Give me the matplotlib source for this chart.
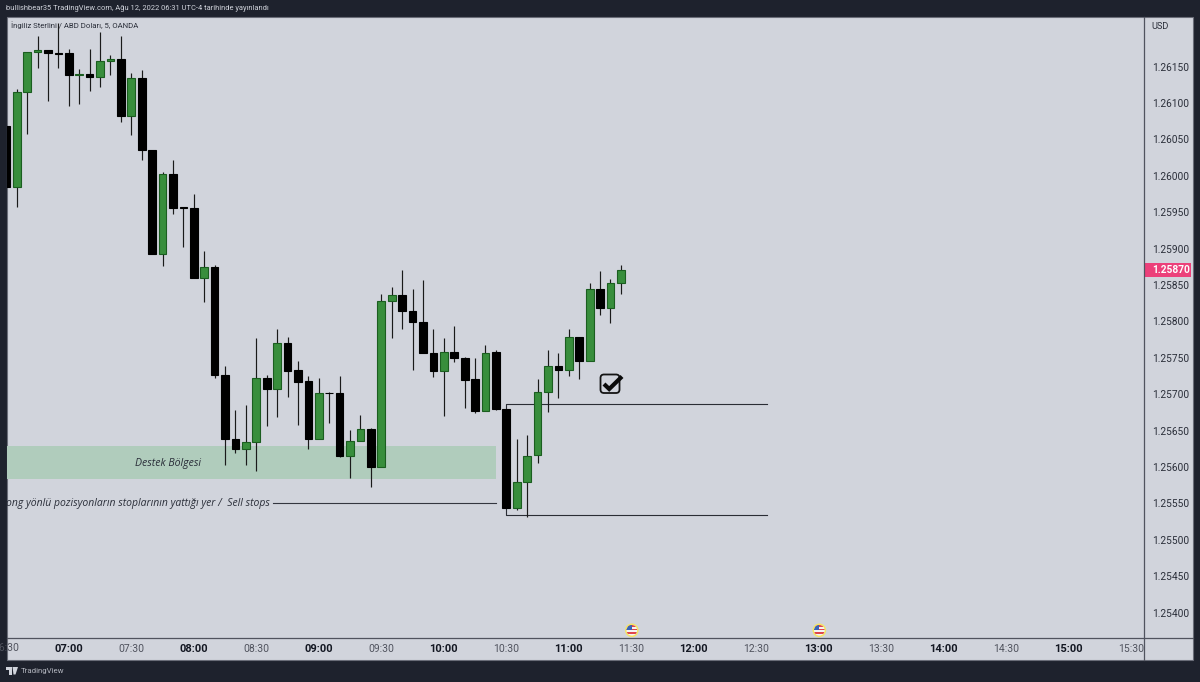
import matplotlib
matplotlib.use("Agg")
import matplotlib.pyplot as plt
from matplotlib import font_manager as fm
from matplotlib.patches import Rectangle, FancyBboxPatch, Circle, Polygon
from matplotlib.lines import Line2D

BG = "#1E222D"; PANE = "#D1D4DC"; GREEN = "#388E3C"; GREEN_EDGE = "#1B5E20"
ZONE = "#B0CCBC"; AXL = "#50535E"; TXT = "#2A2E39"; PINK = "#EC407A"

bars = list(range(-6, 54))
opens = [1.26068,1.25984,1.26115,1.26170,1.26172,1.26168,1.26168,1.26138,1.26140,1.26135,
         1.26158,1.26160,1.26082,1.26134,1.26035,1.25893,1.26002,1.25957,1.25955,1.25859,
         1.25874,1.25726,1.25639,1.25624,1.25634,1.25722,1.25707,1.25770,1.25733,1.25718,
         1.25639,1.25702,1.25702,1.25615,1.25636,1.25652,1.25600,1.25828,1.25836,1.25814,
         1.25799,1.25757,1.25732,1.25758,1.25750,1.25721,1.25677,1.25758,1.25680,1.25543,
         1.25579,1.25616,1.25703,1.25739,1.25733,1.25778,1.25746,1.25844,1.25818,1.25852]
highs = [1.26068,1.26119,1.26170,1.26192,1.26172,1.26210,1.26174,1.26147,1.26174,1.26198,
         1.26166,1.26192,1.26141,1.26145,1.26035,1.26005,1.26022,1.25957,1.25975,1.25896,
         1.25877,1.25738,1.25678,1.25685,1.25777,1.25726,1.25789,1.25779,1.25746,1.25725,
         1.25722,1.25703,1.25725,1.25651,1.25671,1.25653,1.25837,1.25847,1.25870,1.25845,
         1.25857,1.25789,1.25777,1.25794,1.25751,1.25749,1.25767,1.25760,1.25680,1.25638,
         1.25644,1.25721,1.25760,1.25757,1.25789,1.25778,1.25853,1.25869,1.25858,1.25877]
lows = [1.25984,1.25957,1.26057,1.26148,1.26103,1.26148,1.26096,1.26098,1.26117,1.26122,
        1.26139,1.26074,1.26056,1.26021,1.25893,1.25876,1.25947,1.25902,1.25859,1.25826,
        1.25722,1.25603,1.25619,1.25603,1.25595,1.25656,1.25669,1.25696,1.25657,1.25625,
        1.25639,1.25660,1.25613,1.25585,1.25636,1.25572,1.25600,1.25777,1.25789,1.25733,
        1.25757,1.25724,1.25670,1.25744,1.25681,1.25674,1.25677,1.25678,1.25543,1.25541,
        1.25531,1.25606,1.25676,1.25695,1.25725,1.25721,1.25746,1.25809,1.25798,1.25838]
closes = [1.25984,1.26115,1.26170,1.26172,1.26168,1.26167,1.26138,1.26140,1.26135,1.26158,
          1.26160,1.26082,1.26134,1.26035,1.25893,1.26002,1.25955,1.25955,1.25859,1.25874,
          1.25726,1.25639,1.25625,1.25634,1.25722,1.25707,1.25770,1.25732,1.25717,1.25639,
          1.25701,1.25701,1.25615,1.25636,1.25652,1.25600,1.25828,1.25836,1.25814,1.25799,
          1.25757,1.25732,1.25758,1.25750,1.25720,1.25677,1.25757,1.25680,1.25543,1.25579,
          1.25615,1.25703,1.25739,1.25733,1.25778,1.25746,1.25844,1.25818,1.25852,1.25870]

price_ticks = [1.26150,1.26100,1.26050,1.26000,1.25950,1.25900,1.25850,1.25800,1.25750,
               1.25700,1.25650,1.25600,1.25550,1.25500,1.25450,1.25400]
time_labels = ["07:00","07:30","08:00","08:30","09:00","09:30","10:00","10:30","11:00","11:30",
               "12:00","12:30","13:00","13:30","14:00","14:30","15:00","15:30"]
time_bars = list(range(0, 108, 6))
last_price = 1.25870
zone_low, zone_high = 1.25583, 1.25629
stops_level = 1.25550
box_high, box_low = 1.25686, 1.25534
event_bars = [54, 72]

W, H = 1200, 682
plt.rcParams["font.family"] = "Roboto"
installed = {f.name for f in fm.fontManager.ttflist}
NARROW = "Liberation Sans Narrow" if "Liberation Sans Narrow" in installed else "Roboto"
hdr_size = 6.6 if NARROW != "Roboto" else 5.4
tic_size = 6.7 if NARROW != "Roboto" else 5.55
tv_size = 6.9 if NARROW != "Roboto" else 5.7
fig = plt.figure(figsize=(12, 6.82), dpi=100, facecolor=BG)

bgax = fig.add_axes([0, 0, 1, 1], zorder=0)
bgax.set_xlim(0, W); bgax.set_ylim(H, 0); bgax.axis("off")
bgax.add_patch(Rectangle((7, 17), 1186, 643, fc=PANE, ec="#6A6D78", lw=0.8))

ax = fig.add_axes([7/W, 1-638/H, (1144.4-7)/W, (638-17)/H], zorder=2)
ax.patch.set_alpha(0)
ax.set_xlim(-5.93, 103.25)
ax.set_ylim(1.25365, 1.26218)
for s in ax.spines.values():
    s.set_visible(False)

ax.add_patch(Rectangle((-7, zone_low), 48, zone_high-zone_low, fc=ZONE, ec="none", zorder=1))
ax.text(9.5, (zone_low+zone_high)/2 - 0.00001, "Destek Bölgesi", style="italic", fontsize=7.6, color=TXT,
        ha="center", va="center", family="Open Sans", zorder=1.5)
ax.text(19.3, stops_level, "Long yönlü pozisyonların stoplarının yattığı yer /  Sell stops",
        style="italic", fontsize=7.5, color=TXT, ha="right", va="center",
        family="Open Sans", clip_on=True, zorder=1.5)
ax.plot([19.6, 41], [stops_level]*2, color="#33363f", lw=0.8, zorder=1.5)
ax.plot([67, 42, 42], [box_high, box_high, box_high-0.00006], color="#2a2d35", lw=0.8, zorder=1.5)
ax.plot([42, 42, 67], [box_low+0.00010, box_low, box_low], color="#2a2d35", lw=0.8, zorder=1.5)

for i, o, h, l, c in zip(bars, opens, highs, lows, closes):
    up = c >= o
    ax.vlines(i, l, h, color="#1a1a1a", lw=0.85, zorder=3)
    ax.bar(i, abs(c-o), bottom=min(o, c), width=0.74,
           color=GREEN if up else "#000000",
           edgecolor=GREEN_EDGE if up else "#000000", linewidth=0.8, zorder=4)

ax.yaxis.tick_right()
ax.set_yticks(price_ticks, [f"{p:.5f}" for p in price_ticks])
ax.tick_params(axis="y", length=0, pad=5.2, labelsize=7.3, labelcolor=TXT)
ax.set_xticks(time_bars, time_labels)
ax.tick_params(axis="x", length=0, pad=4.5, labelsize=8)
for t, lab in zip(ax.get_xticklabels(), time_labels):
    if lab.endswith(":00"):
        t.set_fontweight("bold"); t.set_color("#131722")
    else:
        t.set_color("#50535E"); t.set_fontsize(7.5)

top = fig.add_axes([0, 0, 1, 1], zorder=5)
top.set_xlim(0, W); top.set_ylim(H, 0); top.axis("off"); top.patch.set_alpha(0)
top.add_line(Line2D([7, 1193], [638, 638], color=AXL, lw=0.9))
top.add_line(Line2D([1144.4, 1144.4], [17, 660], color=AXL, lw=0.9))

clip = Rectangle((7, 638), 50, 22, transform=top.transData)
t0 = top.text(6.3, 648, "06:30", fontsize=7.5, color="#50535E", ha="center", va="center")
t0.set_clip_path(clip)

top.text(6, 8.5, "bullishbear35 TradingView.com, Ağu 12, 2022 06:31 UTC-4 tarihinde yayınlandı",
         color="#D1D4DC", fontsize=hdr_size, family=NARROW, va="center", ha="left")
top.text(11, 25.5, "İngiliz Sterlini / ABD Doları, 5, OANDA", color=TXT, fontsize=tic_size,
         family=NARROW, va="center", ha="left")
top.text(1151, 26.5, "USD", color=TXT, fontsize=6.6, va="center", ha="left")

ypx = 17 + (1.26218-last_price)/(1.26218-1.25365)*621
top.add_patch(Rectangle((1144.4, ypx-7), 47, 14, fc=PINK, ec="none"))
top.text(1152, ypx, f"{last_price:.5f}", color="white", fontsize=7.3, fontweight="bold", va="center", ha="left")

top.add_patch(FancyBboxPatch((602.5, 376.5), 15, 14.5, boxstyle="round,pad=2,rounding_size=3.5",
                             fc="none", ec="#141414", lw=1.3))
top.add_line(Line2D([604, 609.2, 622], [384, 389, 376.5], color="#0a0a0a", lw=3.0,
                    solid_capstyle="butt", solid_joinstyle="miter"))

for b in event_bars:
    cx = 68.8 + 10.417*b + 0.5
    cy = 630.3
    top.add_patch(Circle((cx, cy), 6.8, fc="#F5E663", ec="none"))
    top.add_patch(Circle((cx, cy), 5.3, fc="#F4F4F4", ec="none"))
    clipc = Circle((cx, cy), 5.3, transform=top.transData)
    for yy in [cy-5.3, cy-1.8, cy+1.8]:
        r = Rectangle((cx-6, yy), 12, 1.8, fc="#E0474C", ec="none")
        top.add_patch(r); r.set_clip_path(clipc)
    c = Rectangle((cx-6, cy-6), 6, 6, fc="#3A66B8", ec="none")
    top.add_patch(c); c.set_clip_path(clipc)

top.add_patch(Polygon([(6, 667), (12, 667), (12, 674.5), (9, 674.5), (9, 669.5), (6, 669.5)], fc="#D1D4DC", ec="none"))
top.add_patch(Polygon([(12.5, 667), (18, 667), (15.5, 674.5), (13.5, 674.5)], fc="#D1D4DC", ec="none"))
top.text(20.7, 671, "TradingView", color="#B2B5BE", fontsize=tv_size, family=NARROW, va="center", ha="left")

fig.savefig("out.png", dpi=100, facecolor=BG)
